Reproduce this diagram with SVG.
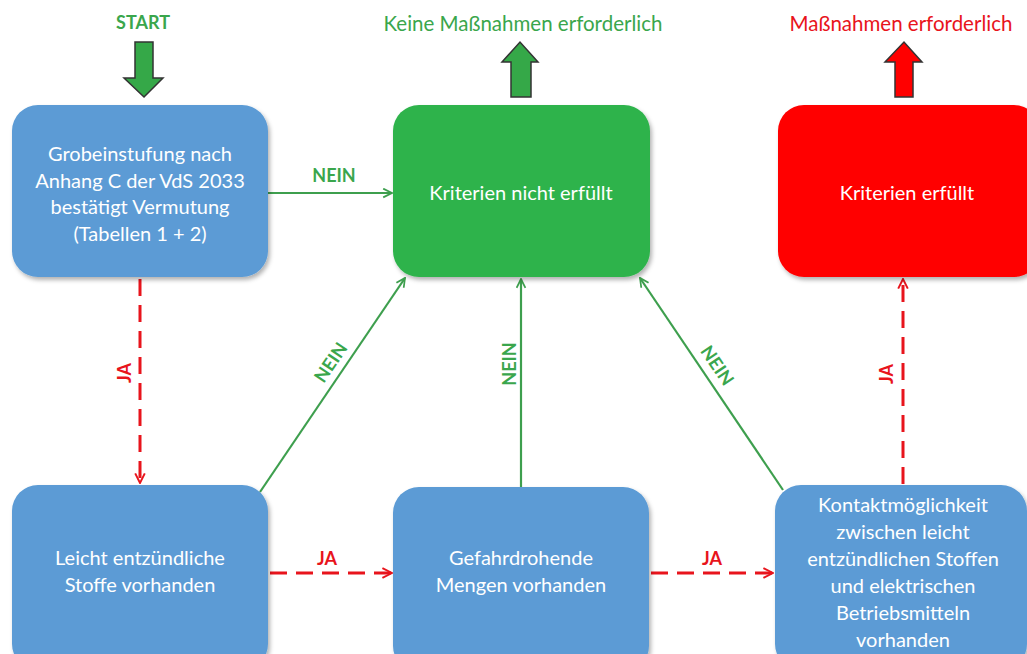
<svg xmlns="http://www.w3.org/2000/svg" width="1027" height="654" viewBox="0 0 1027 654">
<style>
.box{stroke:none}
.blue{fill:#5B9BD5}
.grn{fill:#2EB34C}
.red{fill:#FF0000}
.bt{font-family:Lato,"Liberation Sans",sans-serif;font-size:20px;fill:#fff;text-anchor:middle}
.lblg{font-family:Lato,"Liberation Sans",sans-serif;font-size:18px;font-weight:bold;fill:#3AA64C;text-anchor:middle}
.lblr{font-family:Lato,"Liberation Sans",sans-serif;font-size:18px;font-weight:bold;fill:#E8141C;text-anchor:middle}
.ttl{font-size:20.5px;font-weight:normal}
.gl{stroke:#3E9F4E;stroke-width:2.2;fill:none}
.rl{stroke:#E8141C;stroke-width:3;fill:none;stroke-dasharray:17,9}
.blk{stroke:#333;stroke-width:1.5}
</style>
<defs>
<filter id="sh" x="-10%" y="-10%" width="125%" height="125%">
<feDropShadow dx="2" dy="3" stdDeviation="2" flood-color="#000" flood-opacity="0.3"/>
</filter>
<marker id="ag" viewBox="0 0 10 10" refX="9" refY="5" markerWidth="5" markerHeight="5" orient="auto" markerUnits="strokeWidth">
<path d="M1,1 L9,5 L1,9" fill="none" stroke="#3E9F4E" stroke-width="1.6"/>
</marker>
<marker id="ar" viewBox="0 0 10 10" refX="9" refY="5" markerWidth="4" markerHeight="4" orient="auto" markerUnits="strokeWidth">
<path d="M1,1 L9,5 L1,9" fill="none" stroke="#E8141C" stroke-width="1.6"/>
</marker>
</defs>
<rect width="1027" height="654" fill="#fff"/>

<g id="start">
<text x="143" y="29" class="lblg">START</text>
<path class="blk" fill="#35A848" d="M135,42 H153 V78 H163 L144,97 L124,78 H135 Z"/>
</g>
<g id="keine">
<text x="523" y="31" class="lblg ttl">Keine Maßnahmen erforderlich</text>
<path class="blk" fill="#35A848" d="M511,97 V62 H502 L520,42 L538,62 H531 V97 Z"/>
</g>
<g id="massnahmen">
<text x="901" y="31" class="lblr ttl">Maßnahmen erforderlich</text>
<path class="blk" fill="#FF0000" d="M895,97 V62 H885 L904,42 L922,62 H913 V97 Z"/>
</g>

<g id="connectors">
<line class="gl" x1="268" y1="193" x2="392" y2="193" marker-end="url(#ag)"/>
<line class="rl" x1="140" y1="279" x2="140" y2="483" marker-end="url(#ar)"/>
<line class="gl" x1="260" y1="492" x2="405" y2="278" marker-end="url(#ag)"/>
<line class="gl" x1="521" y1="487" x2="521" y2="279" marker-end="url(#ag)"/>
<line class="gl" x1="783" y1="490" x2="640" y2="278" marker-end="url(#ag)"/>
<line class="rl" x1="270" y1="573" x2="392" y2="573" marker-end="url(#ar)"/>
<line class="rl" x1="651" y1="573" x2="773" y2="573" marker-end="url(#ar)"/>
<line class="rl" x1="903" y1="484" x2="903" y2="279" marker-end="url(#ar)"/>
<text x="334" y="182" class="lblg">NEIN</text>
<text class="lblr" transform="translate(131,373) rotate(-90)">JA</text>
<text class="lblg" transform="translate(336,366) rotate(-56)">NEIN</text>
<text class="lblg" transform="translate(516,364) rotate(-90)">NEIN</text>
<text class="lblg" transform="translate(712,369) rotate(56)">NEIN</text>
<text x="327" y="565" class="lblr">JA</text>
<text x="712" y="565" class="lblr">JA</text>
<text class="lblr" transform="translate(893,374) rotate(-90)">JA</text>
</g>

<g id="grob">
<rect class="box blue" x="12" y="105" width="256" height="172" rx="26" filter="url(#sh)"/>
<text class="bt" x="140" y="161">Grobeinstufung nach</text>
<text class="bt" x="140" y="188">Anhang C der VdS 2033</text>
<text class="bt" x="140" y="214">bestätigt Vermutung</text>
<text class="bt" x="140" y="241">(Tabellen 1 + 2)</text>
</g>
<g id="nichterfuellt">
<rect class="box grn" x="393" y="105" width="257" height="172" rx="26" filter="url(#sh)"/>
<text class="bt" x="521" y="200">Kriterien nicht erfüllt</text>
</g>
<g id="erfuellt">
<rect class="box red" x="778" y="105" width="262" height="172" rx="26" filter="url(#sh)"/>
<text class="bt" x="907" y="200">Kriterien erfüllt</text>
</g>
<g id="leicht">
<rect class="box blue" x="12" y="485" width="256" height="185" rx="26" filter="url(#sh)"/>
<text class="bt" x="140" y="565">Leicht entzündliche</text>
<text class="bt" x="140" y="592">Stoffe vorhanden</text>
</g>
<g id="gefahr">
<rect class="box blue" x="393" y="487" width="256" height="185" rx="26" filter="url(#sh)"/>
<text class="bt" x="521" y="565">Gefahrdrohende</text>
<text class="bt" x="521" y="592">Mengen vorhanden</text>
</g>
<g id="kontakt">
<rect class="box blue" x="775" y="485" width="252" height="185" rx="26" filter="url(#sh)"/>
<text class="bt" x="903" y="512">Kontaktmöglichkeit</text>
<text class="bt" x="903" y="539">zwischen leicht</text>
<text class="bt" x="903" y="566">entzündlichen Stoffen</text>
<text class="bt" x="903" y="593">und elektrischen</text>
<text class="bt" x="903" y="620">Betriebsmitteln</text>
<text class="bt" x="903" y="647">vorhanden</text>
</g>
</svg>
